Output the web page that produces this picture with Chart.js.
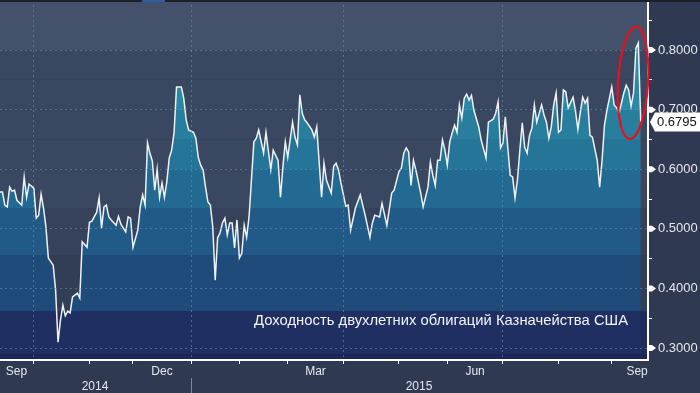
<!DOCTYPE html>
<html>
<head>
  <meta charset="utf-8">
  <title>Доходность двухлетних облигаций Казначейства США</title>
  <script src="https://cdn.jsdelivr.net/npm/chart.js"></script>
  <style>
    html, body {
      margin: 0;
      padding: 0;
      background: #2f3a52;
    }
    #chart-container {
      width: 700px;
      height: 393px;
      position: relative;
    }
  </style>
</head>
<body>
  <div id="chart-container">
    <canvas id="myChart"></canvas>
  </div>
  <script>
    // Данные: номер торгового дня (0 = середина сентября 2014) и доходность, %
    const tradingDays = [
      0, 1, 2, 3, 4, 5, 6, 7, 9, 10, 11, 12, 13, 14, 15, 16, 17, 18, 19, 20,
      22, 23, 24, 25, 26, 27, 28, 29, 30, 32, 33, 34, 36, 37, 38, 40, 41, 42, 43, 44,
      45, 46, 48, 49, 50, 52, 53, 54, 55, 57, 58, 59, 60, 61, 62, 63, 64, 65, 66, 67,
      68, 69, 70, 71, 72, 73, 74, 75, 76, 77, 78, 80, 81, 82, 83, 84, 85, 86, 87, 88,
      89, 90, 91, 92, 93, 94, 95, 96, 97, 98, 99, 100, 101, 102, 103, 105, 106, 107, 109, 110,
      112, 113, 115, 116, 117, 118, 119, 121, 122, 123, 124, 125, 126, 127, 129, 130, 131, 133, 134, 135,
      137, 138, 139, 140, 141, 143, 144, 145, 147, 149, 151, 153, 154, 155, 157, 158, 160, 162, 163, 165,
      166, 167, 168, 169, 170, 171, 172, 174, 175, 177, 178, 179, 180, 181, 182, 183, 184, 185, 186, 187,
      188, 189, 190, 191, 192, 193, 194, 195, 196, 198, 199, 201, 202, 204, 205, 206, 207, 208, 209, 210,
      211, 212, 213, 214, 215, 216, 217, 218, 219, 220, 221, 222, 224, 225, 226, 227, 228, 229, 230, 231,
      232, 233, 234, 235, 237, 238, 239, 240, 241, 242, 243, 244, 245, 247, 248, 249, 250, 251, 253, 254,
      255, 256, 258, 259, 260, 261, 262, 263, 264, 265
    ];
    const yields = [
      0.562, 0.562, 0.540, 0.537, 0.570, 0.563, 0.565, 0.548, 0.540, 0.587, 0.553, 0.575, 0.572, 0.568, 0.518, 0.523, 0.558, 0.535, 0.503, 0.451,
      0.439, 0.397, 0.310, 0.347, 0.372, 0.354, 0.362, 0.359, 0.386, 0.392, 0.384, 0.478, 0.469, 0.511, 0.513, 0.528, 0.552, 0.501, 0.537, 0.540,
      0.520, 0.515, 0.506, 0.521, 0.508, 0.495, 0.520, 0.518, 0.469, 0.498, 0.537, 0.557, 0.540, 0.644, 0.627, 0.614, 0.565, 0.600, 0.553, 0.577,
      0.553, 0.579, 0.619, 0.632, 0.662, 0.738, 0.738, 0.738, 0.719, 0.683, 0.666, 0.662, 0.652, 0.620, 0.607, 0.599, 0.570, 0.545, 0.540, 0.503,
      0.414, 0.485, 0.493, 0.510, 0.518, 0.490, 0.510, 0.510, 0.468, 0.515, 0.451, 0.459, 0.506, 0.486, 0.520, 0.646, 0.652, 0.666, 0.627, 0.662,
      0.599, 0.632, 0.615, 0.553, 0.604, 0.646, 0.620, 0.679, 0.654, 0.641, 0.725, 0.694, 0.683, 0.678, 0.666, 0.654, 0.671, 0.553, 0.610, 0.582,
      0.560, 0.605, 0.610, 0.599, 0.577, 0.538, 0.540, 0.498, 0.535, 0.557, 0.523, 0.486, 0.510, 0.523, 0.520, 0.543, 0.506, 0.560, 0.565, 0.596,
      0.602, 0.627, 0.636, 0.629, 0.573, 0.615, 0.599, 0.560, 0.537, 0.570, 0.612, 0.590, 0.573, 0.615, 0.615, 0.649, 0.632, 0.607, 0.646, 0.661,
      0.674, 0.662, 0.708, 0.686, 0.719, 0.726, 0.716, 0.724, 0.699, 0.671, 0.649, 0.619, 0.679, 0.684, 0.694, 0.713, 0.636, 0.644, 0.688, 0.637,
      0.590, 0.587, 0.552, 0.582, 0.632, 0.678, 0.637, 0.627, 0.657, 0.669, 0.708, 0.679, 0.708, 0.691, 0.679, 0.652, 0.671, 0.708, 0.728, 0.662,
      0.666, 0.733, 0.730, 0.703, 0.721, 0.698, 0.667, 0.696, 0.721, 0.711, 0.719, 0.657, 0.654, 0.615, 0.570, 0.615, 0.674, 0.699, 0.738, 0.708,
      0.703, 0.694, 0.728, 0.741, 0.733, 0.706, 0.728, 0.803, 0.812, 0.6795
    ];
    const lastYield = 0.6795;

    // Ось X: начала месяцев (в торговых днях), подписи месяцев и лет
    const monthStarts = [14, 37, 55, 79, 99, 119, 142, 165, 185, 208, 231, 253];
    const quarterStarts = [14, 79, 142, 208];
    const monthLabels = ['Sep', 'Dec', 'Mar', 'Jun', 'Sep'];
    const monthLabelDays = [6.8, 67, 130.5, 196.5, 263.5];
    const yearLabels = ['2014', '2015'];
    const yearLabelDays = [39.3, 173.3];
    const yearBreakDay = 79;

    // Ось Y
    const yTicks = [0.30, 0.35, 0.40, 0.45, 0.50, 0.55, 0.60, 0.65, 0.70, 0.75, 0.80, 0.85];

    const legendText = 'Доходность двухлетних облигаций Казначейства США';

    // Оформление
    const FONT = "'Liberation Sans', Arial, sans-serif";
    const TEXT = '#e4e7ee';
    const GRID = 'rgba(110, 150, 185, 0.55)';
    const bandEdges = [0.29, 0.362, 0.456, 0.535, 0.60, 0.65, 0.70, 0.75, 0.80];
    const fillBands = ['#1b2757', '#1f2f62', '#1f4b7a', '#215a86', '#236a92', '#257598', '#277f9d', '#2a88a2', '#2c8fa7', '#2f96ad'];
    const backBands = ['#1b2757', '#1f2d5e', '#323d56', '#36425b', '#3a4761', '#3a4761', '#3a4761', '#3a4761', '#3a4761', '#44516b'];
    const highlight = { day: 261.8, value: 0.745, dayRadius: 6.2, valueRadius: 0.094 };

    const bandGradient = (chart) => {
      const { ctx, chartArea, scales } = chart;
      if (!chartArea) return null;
      const y = scales.y;
      const h = chartArea.bottom - chartArea.top;
      const t = v => Math.min(1, Math.max(0, (chartArea.bottom - y.getPixelForValue(v)) / h));
      const edges = [y.min, ...bandEdges, y.max];
      const g = ctx.createLinearGradient(0, chartArea.bottom, 0, chartArea.top);
      fillBands.forEach((c, i) => {
        g.addColorStop(t(edges[i]), c);
        g.addColorStop(t(edges[i + 1]), c);
      });
      return g;
    };

    // Фон: полосы по уровням доходности
    const backgroundBands = {
      id: 'backgroundBands',
      beforeDraw(chart) {
        const { ctx, width, height } = chart;
        ctx.save();
        ctx.fillStyle = '#2f3a52';
        ctx.fillRect(0, 0, width, height);
        ctx.restore();
      },
      beforeDatasetsDraw(chart) {
        const { ctx, chartArea: a, scales: { y } } = chart;
        const edges = [y.min, ...bandEdges, y.max];
        ctx.save();
        backBands.forEach((c, i) => {
          const top = y.getPixelForValue(edges[i + 1]);
          const bottom = y.getPixelForValue(edges[i]);
          ctx.fillStyle = c;
          ctx.fillRect(a.left, top, a.right - a.left, bottom - top);
        });
        ctx.restore();
      }
    };

    // Подписи, метка последнего значения, эллипс
    const decorations = {
      id: 'decorations',
      afterDraw(chart) {
        const { ctx, chartArea: a, scales: { x, y } } = chart;
        ctx.save();

        // верхняя тёмная полоса
        ctx.fillStyle = '#1d2028';
        ctx.fillRect(0, 0, chart.width, 2);
        ctx.fillStyle = '#2d5d9f';
        ctx.fillRect(142, 0, 23, 2);

        // флажки основных делений оси Y
        ctx.fillStyle = '#ffffff';
        yTicks.filter(v => Math.round(v * 100) % 10 === 0).forEach(v => {
          const py = y.getPixelForValue(v);
          ctx.beginPath();
          ctx.moveTo(a.right, py - 3);
          ctx.lineTo(a.right + 4, py - 3);
          ctx.lineTo(a.right + 8, py);
          ctx.lineTo(a.right + 4, py + 3);
          ctx.lineTo(a.right, py + 3);
          ctx.closePath();
          ctx.fill();
        });

        // метка последнего значения
        const ly = y.getPixelForValue(lastYield);
        ctx.beginPath();
        ctx.moveTo(a.right + 2, ly);
        ctx.lineTo(a.right + 7, ly - 9.5);
        ctx.lineTo(chart.width, ly - 9.5);
        ctx.lineTo(chart.width, ly + 9.5);
        ctx.lineTo(a.right + 7, ly + 9.5);
        ctx.closePath();
        ctx.fillStyle = '#ffffff';
        ctx.fill();
        ctx.fillStyle = '#111111';
        ctx.font = '13px ' + FONT;
        ctx.textAlign = 'left';
        ctx.textBaseline = 'middle';
        ctx.fillText(lastYield.toFixed(4), a.right + 9, ly + 1);

        // красный эллипс
        const cx = x.getPixelForValue(highlight.day);
        const cy = y.getPixelForValue(highlight.value);
        const rx = x.getPixelForValue(highlight.day + highlight.dayRadius) - cx;
        const ry = cy - y.getPixelForValue(highlight.value + highlight.valueRadius);
        ctx.beginPath();
        ctx.ellipse(cx, cy, rx, ry, 0.06, 0, Math.PI * 2);
        ctx.strokeStyle = '#e5121b';
        ctx.lineWidth = 2.2;
        ctx.stroke();

        // подпись серии
        ctx.fillStyle = '#f2f4f8';
        ctx.font = '14.8px ' + FONT;
        ctx.textAlign = 'right';
        ctx.textBaseline = 'middle';
        ctx.fillText(legendText, a.right - 20, a.bottom - 39);

        // разделитель годов
        const bx = Math.round(x.getPixelForValue(yearBreakDay)) + 0.5;
        ctx.strokeStyle = '#7f8999';
        ctx.lineWidth = 1;
        ctx.beginPath();
        ctx.moveTo(bx, a.bottom + 18);
        ctx.lineTo(bx, chart.height);
        ctx.stroke();

        ctx.restore();
      }
    };

    const ctx = document.getElementById('myChart').getContext('2d');
    const chart = new Chart(ctx, {
      type: 'line',
      data: {
        datasets: [{
          label: legendText,
          data: tradingDays.map((d, i) => ({ x: d, y: yields[i] })),
          borderColor: '#eef1f5',
          borderWidth: 1.5,
          pointRadius: 0,
          tension: 0,
          fill: 'start',
          backgroundColor: (c) => bandGradient(c.chart)
        }]
      },
      options: {
        responsive: true,
        maintainAspectRatio: false,
        animation: false,
        layout: { padding: 0 },
        plugins: {
          legend: { display: false },
          tooltip: { enabled: false }
        },
        scales: {
          x: {
            type: 'linear',
            min: 0,
            max: 268,
            position: 'bottom',
            weight: 0,
            afterBuildTicks: s => { s.ticks = monthStarts.map(v => ({ value: v })); },
            afterFit: s => { s.height = 4; s.paddingLeft = 0; s.paddingRight = 0; },
            grid: {
              z: 1,
              color: c => (c.tick && quarterStarts.includes(c.tick.value)) ? GRID : 'rgba(0,0,0,0)',
              lineWidth: 1,
              tickColor: '#ffffff',
              tickLength: 4,
              tickWidth: 1
            },
            border: { display: true, color: '#ffffff', width: 2, dash: [2, 3], z: 1 },
            ticks: { display: false }
          },
          xMonth: {
            type: 'linear',
            min: 0,
            max: 268,
            position: 'bottom',
            weight: 1,
            afterBuildTicks: s => { s.ticks = monthLabelDays.map(v => ({ value: v })); },
            afterFit: s => { s.height = 15; s.paddingLeft = 0; s.paddingRight = 0; },
            grid: { display: false, drawTicks: false, tickLength: 0 },
            border: { display: false },
            ticks: {
              z: 1,
              color: TEXT,
              font: { size: 12, family: FONT },
              padding: 0,
              autoSkip: false,
              maxRotation: 0,
              callback: (v, i) => monthLabels[i]
            }
          },
          xYear: {
            type: 'linear',
            min: 0,
            max: 268,
            position: 'bottom',
            weight: 2,
            afterBuildTicks: s => { s.ticks = yearLabelDays.map(v => ({ value: v })); },
            afterFit: s => { s.height = 14; s.paddingLeft = 0; s.paddingRight = 0; },
            grid: { display: false, drawTicks: false, tickLength: 0 },
            border: { display: false },
            ticks: {
              z: 1,
              color: TEXT,
              font: { size: 12, family: FONT },
              padding: 0,
              autoSkip: false,
              maxRotation: 0,
              callback: (v, i) => yearLabels[i]
            }
          },
          y: {
            position: 'right',
            min: 0.28,
            max: 0.884,
            afterBuildTicks: s => { s.ticks = yTicks.map(v => ({ value: v })); },
            afterFit: s => { s.width = 52; s.paddingTop = 0; s.paddingBottom = 0; },
            grid: {
              z: 1,
              color: c => (c.tick && Math.round(c.tick.value * 100) % 10 === 0) ? GRID : 'rgba(0,0,0,0)',
              lineWidth: 1,
              tickColor: '#ffffff',
              tickLength: 4,
              tickWidth: 1
            },
            border: { display: true, color: '#ffffff', width: 2, dash: [2, 3], z: 1 },
            ticks: {
              z: 1,
              color: TEXT,
              font: { size: 13, family: FONT },
              padding: 6,
              autoSkip: false,
              callback: v => Math.round(v * 100) % 10 === 0 ? v.toFixed(4) : ''
            }
          }
        }
      },
      plugins: [backgroundBands, decorations]
    });
  </script>
</body>
</html>
